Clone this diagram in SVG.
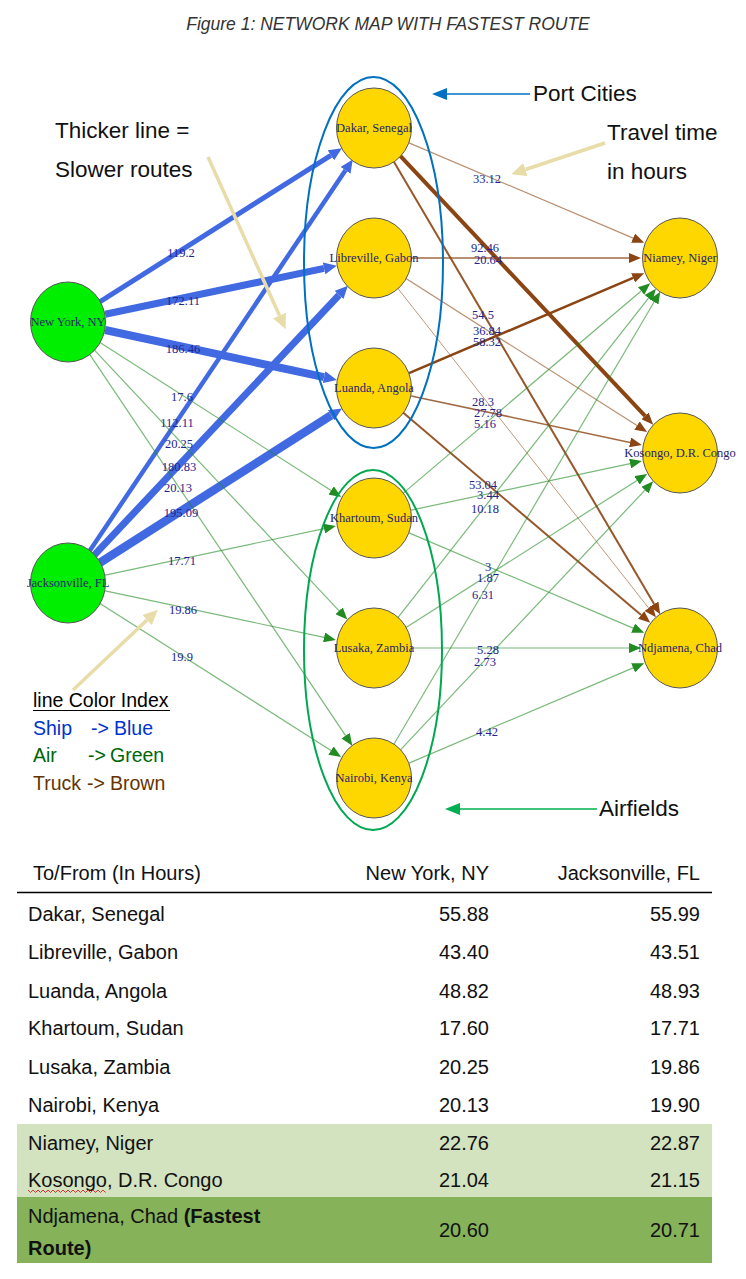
<svg xmlns="http://www.w3.org/2000/svg" width="746" height="1279" viewBox="0 0 746 1279">
<style>
.ship{stroke:#4169E1;fill:none}
.air{stroke:#228B22;stroke-opacity:.6;stroke-width:1.2;fill:none}
.truck{stroke:#8B4513;fill:none}
.elab{font-family:"Liberation Serif",serif;font-size:12.5px;fill:#24248f;text-anchor:middle}
.nlab{font-family:"Liberation Serif",serif;font-size:12.5px;fill:#24246f;text-anchor:middle}
.city{fill:#FFD700;stroke:#555;stroke-width:1}
.src{fill:#00EE00;stroke:#555;stroke-width:1}
.ann{font-family:"Liberation Sans",sans-serif;font-size:22.5px;fill:#111}
.leg{font-family:"Liberation Sans",sans-serif;font-size:19.5px}
.tbl{font-family:"Liberation Sans",sans-serif;font-size:20px;fill:#111}
.r{text-anchor:end}
.khaki{stroke:#E8DDA8;stroke-width:3.5;fill:none}
</style>
<defs>
<marker id="aB" markerUnits="userSpaceOnUse" markerWidth="14" markerHeight="12" refX="0" refY="6" orient="auto"><path d="M0,0 L13,6 L0,12 Z" fill="#4169E1"/></marker>
<marker id="aG" markerUnits="userSpaceOnUse" markerWidth="13" markerHeight="10" refX="0" refY="5" orient="auto"><path d="M0,0 L12,5 L0,10 Z" fill="#228B22"/></marker>
<marker id="aT" markerUnits="userSpaceOnUse" markerWidth="13" markerHeight="10" refX="0" refY="5" orient="auto"><path d="M0,0 L12,5 L0,10 Z" fill="#8B4513"/></marker>
<marker id="aK" markerUnits="userSpaceOnUse" markerWidth="16" markerHeight="14" refX="0" refY="7" orient="auto"><path d="M0,0 L15,7 L0,14 Z" fill="#E8DDA8"/></marker>
<marker id="aP" markerUnits="userSpaceOnUse" markerWidth="16" markerHeight="12" refX="0" refY="6" orient="auto"><path d="M0,0 L15,6 L0,12 Z" fill="#0070C0"/></marker>
<marker id="aA" markerUnits="userSpaceOnUse" markerWidth="16" markerHeight="12" refX="0" refY="6" orient="auto"><path d="M0,0 L15,6 L0,12 Z" fill="#00B050"/></marker>
</defs>
<rect width="746" height="1279" fill="#fff"/>
<text x="388" y="30" font-family="Liberation Sans, sans-serif" font-size="17.5" font-style="italic" fill="#333" text-anchor="middle">Figure 1: NETWORK MAP WITH FASTEST ROUTE</text>

<g id="connectors">
<line class="ship" stroke-width="5" x1="100.1" y1="301.7" x2="330.9" y2="155.3" marker-end="url(#aB)"/>
<line class="ship" stroke-width="7" x1="105.2" y1="314.2" x2="324.1" y2="268.4" marker-end="url(#aB)"/>
<line class="ship" stroke-width="8" x1="105.1" y1="330" x2="324.1" y2="377.2" marker-end="url(#aB)"/>
<line class="ship" stroke-width="4.5" x1="89.2" y1="551.5" x2="345.5" y2="170.3" marker-end="url(#aB)"/>
<line class="ship" stroke-width="7" x1="94" y1="555.3" x2="339" y2="295.1" marker-end="url(#aB)"/>
<line class="ship" stroke-width="8.5" x1="100" y1="562.6" x2="331" y2="415.4" marker-end="url(#aB)"/>
<line class="air" x1="100" y1="342.5" x2="331.1" y2="490.5" marker-end="url(#aG)"/>
<line class="air" x1="94" y1="349.7" x2="339.1" y2="610.8" marker-end="url(#aG)"/>
<line class="air" x1="89.2" y1="353.6" x2="345.6" y2="735.7" marker-end="url(#aG)"/>
<line class="air" x1="105.2" y1="575.1" x2="324.1" y2="528.6" marker-end="url(#aG)"/>
<line class="air" x1="105.2" y1="590.9" x2="324.1" y2="637.4" marker-end="url(#aG)"/>
<line class="air" x1="100" y1="603.4" x2="331" y2="750.6" marker-end="url(#aG)"/>
<line class="truck" stroke-width="1.2" stroke-opacity=".6" x1="409" y1="142.9" x2="633.1" y2="238.1" marker-end="url(#aT)"/>
<line class="truck" stroke-width="4" x1="400" y1="155.7" x2="645" y2="415.9" marker-end="url(#aT)"/>
<line class="truck" stroke-width="2" stroke-opacity=".9" x1="393.3" y1="160.7" x2="654.1" y2="604" marker-end="url(#aT)"/>
<line class="truck" stroke-width="1.5" stroke-opacity=".8" x1="412" y1="258" x2="629" y2="258" marker-end="url(#aT)"/>
<line class="truck" stroke-width="1.2" stroke-opacity=".6" x1="406" y1="278.4" x2="637" y2="425.6" marker-end="url(#aT)"/>
<line class="truck" stroke-width="1" stroke-opacity=".55" x1="397.5" y1="287.9" x2="648.5" y2="607.9" marker-end="url(#aT)"/>
<line class="truck" stroke-width="2.5" x1="409" y1="373.1" x2="633.1" y2="277.9" marker-end="url(#aT)"/>
<line class="truck" stroke-width="1.5" stroke-opacity=".8" x1="411.2" y1="395.9" x2="630.1" y2="442.4" marker-end="url(#aT)"/>
<line class="truck" stroke-width="2" stroke-opacity=".9" x1="403" y1="412.6" x2="641.1" y2="615" marker-end="url(#aT)"/>
<line class="air" x1="403" y1="493.4" x2="641.1" y2="291" marker-end="url(#aG)"/>
<line class="air" x1="411.2" y1="510.1" x2="630.1" y2="463.6" marker-end="url(#aG)"/>
<line class="air" x1="409" y1="532.9" x2="633.1" y2="628.1" marker-end="url(#aG)"/>
<line class="air" x1="397.5" y1="618.1" x2="648.5" y2="298.1" marker-end="url(#aG)"/>
<line class="air" x1="406" y1="627.6" x2="637" y2="480.4" marker-end="url(#aG)"/>
<line class="air" x1="412" y1="648" x2="629" y2="648" marker-end="url(#aG)"/>
<line class="air" x1="393.3" y1="745.3" x2="654.1" y2="302" marker-end="url(#aG)"/>
<line class="air" x1="400" y1="750.3" x2="645" y2="490.1" marker-end="url(#aG)"/>
<line class="air" x1="409" y1="763.1" x2="633.1" y2="667.9" marker-end="url(#aG)"/>
</g>

<g id="node-newyork"><ellipse class="src" cx="68" cy="322" rx="37.5" ry="40"/><text class="nlab" x="68" y="326">New York, NY</text></g>
<g id="node-jacksonville"><ellipse class="src" cx="68" cy="583" rx="37.5" ry="40"/><text class="nlab" x="68" y="587">Jacksonville, FL</text></g>
<g id="node-dakar"><ellipse class="city" cx="374" cy="128" rx="37.5" ry="40"/><text class="nlab" x="374" y="132">Dakar, Senegal</text></g>
<g id="node-libreville"><ellipse class="city" cx="374" cy="258" rx="37.5" ry="40"/><text class="nlab" x="374" y="262">Libreville, Gabon</text></g>
<g id="node-luanda"><ellipse class="city" cx="374" cy="388" rx="37.5" ry="40"/><text class="nlab" x="374" y="392">Luanda, Angola</text></g>
<g id="node-khartoum"><ellipse class="city" cx="374" cy="518" rx="37.5" ry="40"/><text class="nlab" x="374" y="522">Khartoum, Sudan</text></g>
<g id="node-lusaka"><ellipse class="city" cx="374" cy="648" rx="37.5" ry="40"/><text class="nlab" x="374" y="652">Lusaka, Zambia</text></g>
<g id="node-nairobi"><ellipse class="city" cx="374" cy="778" rx="37.5" ry="40"/><text class="nlab" x="374" y="782">Nairobi, Kenya</text></g>
<g id="node-niamey"><ellipse class="city" cx="680" cy="258" rx="37.5" ry="40"/><text class="nlab" x="680" y="262">Niamey, Niger</text></g>
<g id="node-kosongo"><ellipse class="city" cx="680" cy="453" rx="37.5" ry="40"/><text class="nlab" x="680" y="457">Kosongo, D.R. Congo</text></g>
<g id="node-ndjamena"><ellipse class="city" cx="680" cy="648" rx="37.5" ry="40"/><text class="nlab" x="680" y="652">Ndjamena, Chad</text></g>

<g id="edge-labels">
<text class="elab" x="181" y="257">119.2</text>
<text class="elab" x="183" y="305">172.11</text>
<text class="elab" x="183" y="353">186.46</text>
<text class="elab" x="182" y="401">17.6</text>
<text class="elab" x="177" y="427">112.11</text>
<text class="elab" x="179" y="448">20.25</text>
<text class="elab" x="179" y="471">180.83</text>
<text class="elab" x="178" y="492">20.13</text>
<text class="elab" x="181" y="517">195.09</text>
<text class="elab" x="182" y="565">17.71</text>
<text class="elab" x="183" y="614">19.86</text>
<text class="elab" x="182" y="661">19.9</text>
<text class="elab" x="487" y="183">33.12</text>
<text class="elab" x="485" y="252">92.46</text>
<text class="elab" x="488" y="264">20.64</text>
<text class="elab" x="483" y="319">54.5</text>
<text class="elab" x="487" y="335">36.84</text>
<text class="elab" x="487" y="346">58.32</text>
<text class="elab" x="483" y="406">28.3</text>
<text class="elab" x="488" y="417">27.78</text>
<text class="elab" x="485" y="428">5.16</text>
<text class="elab" x="483" y="489">53.04</text>
<text class="elab" x="488" y="499">3.44</text>
<text class="elab" x="485" y="513">10.18</text>
<text class="elab" x="488" y="571">3</text>
<text class="elab" x="488" y="582">1.87</text>
<text class="elab" x="483" y="599">6.31</text>
<text class="elab" x="488" y="654">5.28</text>
<text class="elab" x="485" y="666">2.73</text>
<text class="elab" x="487" y="736">4.42</text>
</g>

<g id="groups">
<ellipse cx="373.5" cy="262.5" rx="69.5" ry="185.5" fill="none" stroke="#0070C0" stroke-width="2"/>
<ellipse cx="373" cy="650" rx="69" ry="180" fill="none" stroke="#00A850" stroke-width="2"/>
</g>

<g id="annotations">
<line x1="530" y1="94" x2="447" y2="94" stroke="#0070C0" stroke-width="1.5" marker-end="url(#aP)"/>
<text class="ann" x="533" y="101">Port Cities</text>
<line x1="597" y1="809" x2="460" y2="809" stroke="#00B050" stroke-width="1.5" marker-end="url(#aA)"/>
<text class="ann" x="599" y="816">Airfields</text>
<text class="ann" x="55" y="138">Thicker line =</text>
<text class="ann" x="55" y="177">Slower routes</text>
<text class="ann" x="607" y="140">Travel time</text>
<text class="ann" x="607" y="179">in hours</text>
<line class="khaki" x1="208" y1="157" x2="279.5" y2="315.5" marker-end="url(#aK)"/>
<line class="khaki" x1="605" y1="143" x2="525.5" y2="169.5" marker-end="url(#aK)"/>
<line class="khaki" x1="73" y1="690" x2="147" y2="620" marker-end="url(#aK)"/>
</g>

<g id="legend">
<text class="leg" x="33" y="707" fill="#000">line Color Index</text>
<line x1="33" y1="710.5" x2="170" y2="710.5" stroke="#000" stroke-width="1.2"/>
<text class="leg" x="33" y="735" fill="#0033CC">Ship</text><text class="leg" x="91" y="735" fill="#0033CC">-&gt;</text><text class="leg" x="114" y="735" fill="#0033CC">Blue</text>
<text class="leg" x="33" y="762" fill="#006600">Air</text><text class="leg" x="88" y="762" fill="#006600">-&gt;</text><text class="leg" x="110" y="762" fill="#006600">Green</text>
<text class="leg" x="33" y="790" fill="#663300">Truck</text><text class="leg" x="87" y="790" fill="#663300">-&gt;</text><text class="leg" x="110" y="790" fill="#663300">Brown</text>
</g>

<g id="table">
<rect x="17" y="1124" width="695" height="73" fill="#D3E2BF"/>
<rect x="17" y="1197" width="695" height="66" fill="#86B25A"/>
<text class="tbl" x="33" y="880">To/From (In Hours)</text>
<text class="tbl r" x="489" y="880">New York, NY</text>
<text class="tbl r" x="700" y="880">Jacksonville, FL</text>
<line x1="17" y1="892.5" x2="712" y2="892.5" stroke="#000" stroke-width="1.5"/>
<text class="tbl" x="28" y="921">Dakar, Senegal</text><text class="tbl r" x="489" y="921">55.88</text><text class="tbl r" x="700" y="921">55.99</text>
<text class="tbl" x="28" y="959">Libreville, Gabon</text><text class="tbl r" x="489" y="959">43.40</text><text class="tbl r" x="700" y="959">43.51</text>
<text class="tbl" x="28" y="998">Luanda, Angola</text><text class="tbl r" x="489" y="998">48.82</text><text class="tbl r" x="700" y="998">48.93</text>
<text class="tbl" x="28" y="1035">Khartoum, Sudan</text><text class="tbl r" x="489" y="1035">17.60</text><text class="tbl r" x="700" y="1035">17.71</text>
<text class="tbl" x="28" y="1074">Lusaka, Zambia</text><text class="tbl r" x="489" y="1074">20.25</text><text class="tbl r" x="700" y="1074">19.86</text>
<text class="tbl" x="28" y="1112">Nairobi, Kenya</text><text class="tbl r" x="489" y="1112">20.13</text><text class="tbl r" x="700" y="1112">19.90</text>
<text class="tbl" x="28" y="1150">Niamey, Niger</text><text class="tbl r" x="489" y="1150">22.76</text><text class="tbl r" x="700" y="1150">22.87</text>
<text class="tbl" x="28" y="1187">Kosongo, D.R. Congo</text><text class="tbl r" x="489" y="1187">21.04</text><text class="tbl r" x="700" y="1187">21.15</text>
<path d="M28,1190 l2.5,2.5 l2.5,-2.5 l2.5,2.5 l2.5,-2.5 l2.5,2.5 l2.5,-2.5 l2.5,2.5 l2.5,-2.5 l2.5,2.5 l2.5,-2.5 l2.5,2.5 l2.5,-2.5 l2.5,2.5 l2.5,-2.5 l2.5,2.5 l2.5,-2.5 l2.5,2.5 l2.5,-2.5 l2.5,2.5 l2.5,-2.5 l2.5,2.5 l2.5,-2.5 l2.5,2.5 l2.5,-2.5 l2.5,2.5 l2.5,-2.5 l2.5,2.5 l2.5,-2.5 l2.5,2.5 l2.5,-2.5 l2.5,2.5" fill="none" stroke="#E03030" stroke-width="1"/>
<text class="tbl" x="28" y="1223">Ndjamena, Chad <tspan font-weight="bold">(Fastest</tspan></text>
<text class="tbl" x="28" y="1255" font-weight="bold">Route)</text>
<text class="tbl r" x="489" y="1237">20.60</text><text class="tbl r" x="700" y="1237">20.71</text>
</g>
</svg>
